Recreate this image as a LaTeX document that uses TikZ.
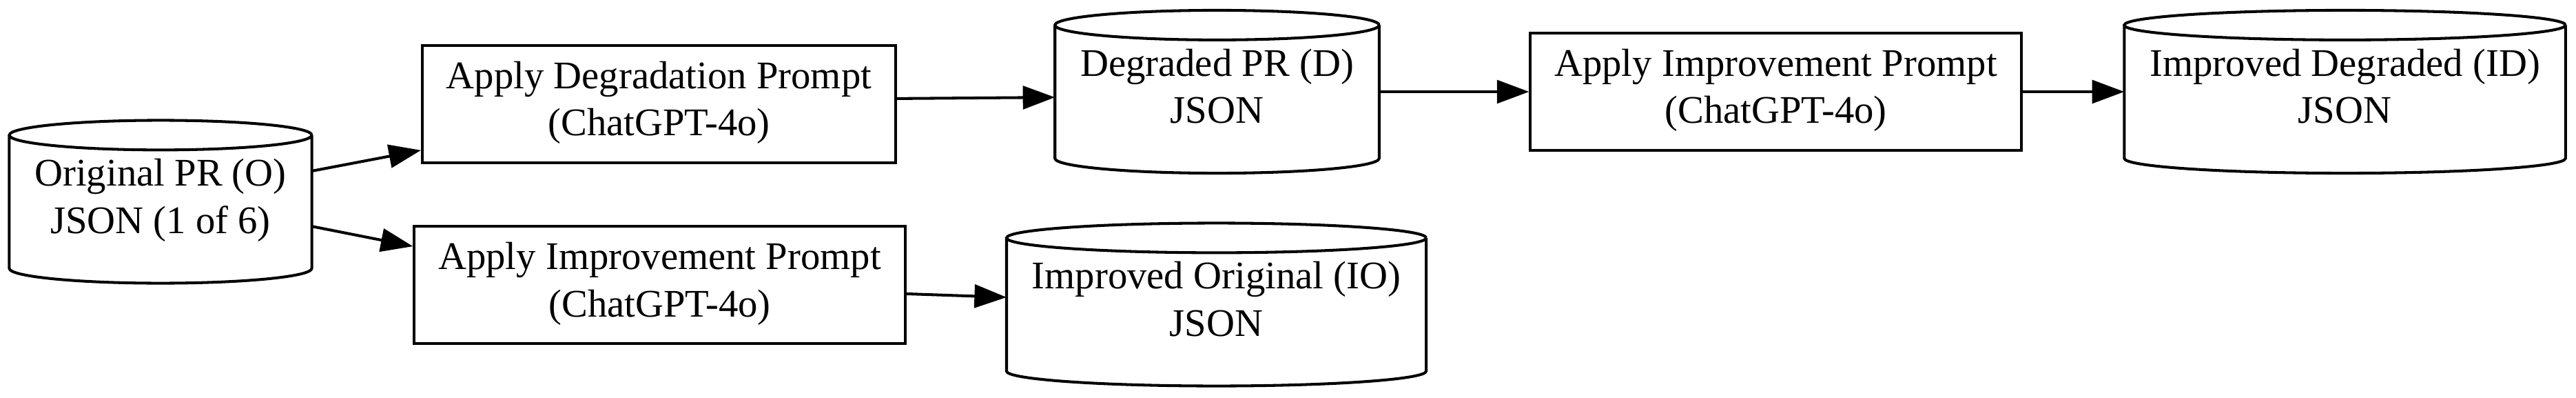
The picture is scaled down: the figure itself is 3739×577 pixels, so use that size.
\documentclass[tikz,border=0pt]{standalone}
\usepackage{fontspec}
\setmainfont{Liberation Serif}
\usetikzlibrary{arrows.meta,calc}
\tikzset{
  txt/.style={line width=1pt, inner xsep=8.6pt, align=center,
    font=\fontsize{14}{17}\selectfont, execute at end node={\rule[-4pt]{0pt}{4pt}}},
  proc/.style={txt, draw, minimum height=42pt, execute at begin node={\rule{0pt}{17pt}}},
  db/.style={txt, minimum height=57.3pt, execute at begin node={\rule{0pt}{21.5pt}}},
  dbline/.style={line width=1pt},
  flow/.style={line width=1pt, -{Triangle[length=11.5pt,width=8.3pt]}}
}
\begin{document}
\begin{tikzpicture}[x=0.2469pt,y=-0.2469pt]
\useasboundingbox (0,0) rectangle (3739,577);
\node[db] (orig) at (233,292.5) {Original PR (O)\\JSON (1 of 6)};
\node[proc] (degprompt) at (956.5,151) {Apply Degradation Prompt\\(ChatGPT-4o)};
\node[proc] (impprompt) at (957.5,413) {Apply Improvement Prompt\\(ChatGPT-4o)};
\node[db] (degr) at (1766.5,133) {Degraded PR (D)\\JSON};
\node[db] (imporig) at (1765.5,441.5) {Improved Original (IO)\\JSON};
\node[proc] (impagain) at (2577.5,133) {Apply Improvement Prompt\\(ChatGPT-4o)};
\node[db] (impdeg) at (3403.5,133) {Improved Degraded (ID)\\JSON};
% cylinders round the stored JSON files
\foreach \nd in {orig,degr,imporig,impdeg}
  \draw[dbline] let \p1=(\nd.north west), \p2=(\nd.south east),
      \n1={(\x2-\x1)/2}, \n2={(\y1-\y2)/11} in
    (\x2,\y1-\n2) arc[start angle=0, end angle=360, x radius={\n1*1pt}, y radius={\n2*1pt}]
    (\x1,\y1-\n2) -- (\x1,\y2+\n2)
      arc[start angle=180, end angle=360, x radius={\n1*1pt}, y radius={\n2*1pt}]
      -- (\x2,\y1-\n2);
\draw[flow] ([yshift=11pt]orig.east) -- ([yshift=-16.5pt]degprompt.west);
\draw[flow] ([yshift=-8.8pt]orig.east) -- ([yshift=13.8pt]impprompt.west);
\draw[flow] ([yshift=2pt]degprompt.east) -- ([yshift=-2pt]degr.west);
\draw[flow] ([yshift=-3.2pt]impprompt.east) -- ([yshift=2.6pt]imporig.west);
\draw[flow] (degr.east) -- (impagain.west);
\draw[flow] (impagain.east) -- (impdeg.west);
\end{tikzpicture}
\end{document}
